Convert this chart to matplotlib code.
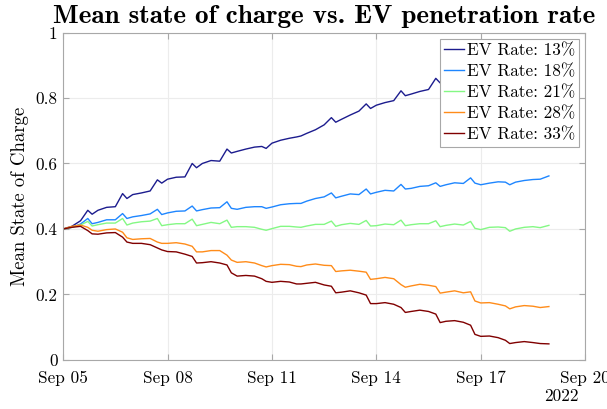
import datetime as dt
import matplotlib
matplotlib.use("Agg")
import matplotlib.pyplot as plt
import matplotlib.dates as mdates
from matplotlib.ticker import FuncFormatter

plt.rcParams["font.family"] = "cmr10"
plt.rcParams["mathtext.fontset"] = "cm"
plt.rcParams["axes.formatter.use_mathtext"] = True

start = dt.datetime(2022, 9, 5)

sample_hours = [
    0, 6, 12, 17, 20, 24, 30, 36, 41, 44, 48, 54, 60, 65, 68,
    72, 78, 84, 89, 92, 96, 102, 108, 113, 116, 120, 126, 132, 137, 140,
    144, 150, 156, 161, 164, 168, 174, 180, 185, 188, 192, 198, 204, 209, 212,
    216, 222, 228, 233, 236, 240, 246, 252, 257, 260, 264, 270, 276, 281, 284,
    288, 294, 300, 305, 308, 312, 318, 324, 329, 335,
]

soc_13 = [
    .400, .408, .425, .457, .445, .457, .466, .468, .508, .493,
    .505, .510, .516, .550, .540, .552, .558, .559, .600, .587,
    .600, .609, .607, .644, .632, .637, .644, .650, .652, .646,
    .662, .671, .677, .681, .684, .692, .703, .718, .740, .726,
    .735, .748, .760, .782, .768, .778, .786, .792, .822, .807,
    .812, .820, .826, .860, .846, .850, .860, .865, .895, .880,
    .885, .893, .898, .925, .912, .915, .922, .926, .950, .940,
]
soc_18 = [
    .400, .405, .415, .432, .416, .420, .428, .428, .447, .432,
    .437, .441, .446, .460, .444, .449, .454, .455, .470, .455,
    .459, .464, .465, .483, .463, .460, .466, .468, .468, .463,
    .467, .474, .477, .478, .478, .485, .493, .498, .510, .495,
    .500, .507, .505, .522, .507, .512, .518, .516, .536, .522,
    .524, .530, .532, .541, .530, .535, .541, .539, .556, .540,
    .535, .540, .544, .543, .535, .543, .548, .551, .552, .562,
]
soc_21 = [
    .400, .405, .412, .423, .409, .413, .418, .418, .432, .412,
    .418, .422, .424, .432, .410, .413, .416, .416, .430, .410,
    .414, .420, .416, .427, .405, .407, .407, .405, .399, .396,
    .401, .408, .408, .406, .405, .409, .414, .414, .424, .408,
    .413, .417, .414, .426, .409, .410, .415, .413, .427, .410,
    .413, .416, .416, .425, .407, .411, .415, .412, .423, .402,
    .398, .405, .406, .404, .393, .400, .405, .407, .404, .411,
]
soc_28 = [
    .400, .408, .412, .405, .396, .393, .398, .400, .390, .373,
    .368, .370, .371, .360, .356, .356, .358, .354, .347, .330,
    .330, .334, .334, .320, .305, .298, .300, .296, .288, .284,
    .288, .292, .291, .286, .285, .290, .293, .289, .288, .270,
    .272, .274, .271, .268, .246, .248, .252, .248, .230, .222,
    .226, .231, .228, .224, .204, .207, .211, .205, .208, .180,
    .174, .175, .170, .165, .156, .162, .166, .164, .160, .163,
]
soc_33 = [
    .400, .405, .408, .395, .385, .384, .388, .389, .375, .360,
    .356, .356, .352, .342, .336, .331, .330, .323, .316, .296,
    .297, .300, .296, .290, .266, .256, .258, .256, .248, .240,
    .237, .240, .238, .232, .232, .234, .237, .229, .225, .205,
    .207, .211, .205, .198, .172, .172, .175, .170, .160, .145,
    .148, .152, .148, .140, .114, .118, .120, .115, .106, .078,
    .072, .073, .068, .060, .050, .053, .056, .053, .050, .049,
]

labels = ["EV Rate: 13%", "EV Rate: 18%", "EV Rate: 21%", "EV Rate: 28%", "EV Rate: 33%"]
colors = ["#1c1c8e", "#1e86ff", "#84f884", "#ff8c1a", "#800000"]
series = [soc_13, soc_18, soc_21, soc_28, soc_33]

times = [start + dt.timedelta(hours=h) for h in sample_hours]

fig = plt.figure(figsize=(6.07, 4.09), dpi=100)
ax = fig.add_axes([0.104, 0.120, 0.860, 0.8005])

for vals, lab, col in zip(series, labels, colors):
    ax.plot(times, vals, color=col, lw=1.0, label=lab)

ax.set_xlim(start, start + dt.timedelta(days=15))
ax.set_ylim(0, 1)
ax.xaxis.set_major_locator(mdates.DayLocator(bymonthday=[5, 8, 11, 14, 17, 20]))
ax.xaxis.set_major_formatter(mdates.DateFormatter("%b %d"))
ax.set_yticks([0, 0.2, 0.4, 0.6, 0.8, 1])
ax.yaxis.set_major_formatter(FuncFormatter(lambda v, p: "%g" % v))

edge = "#a8a8a8"
for s in ax.spines.values():
    s.set_color(edge)
    s.set_linewidth(0.8)
ax.tick_params(direction="in", length=4, width=0.8, color=edge,
               top=True, right=True, labelsize=12.4)
ax.tick_params(axis="x", pad=8)
ax.tick_params(axis="y", pad=4)
ax.grid(True, color="#ececec", lw=0.8)
ax.set_axisbelow(True)

ax.set_title("Mean state of charge vs. EV penetration rate",
             fontfamily="cmb10", fontsize=19.5, pad=6.5)
ax.set_ylabel("Mean State of Charge", fontsize=13.5, labelpad=5)
ax.text(0.987, -0.088, "2022", transform=ax.transAxes, ha="right", va="top",
        fontsize=12.4)

leg = ax.legend(loc="upper right", fontsize=12.4, frameon=True, fancybox=False,
                edgecolor=edge, framealpha=1, borderpad=0.25, labelspacing=0.33,
                handlelength=1.15, handletextpad=0.15, borderaxespad=0.35)
leg.get_frame().set_linewidth(0.8)

fig.savefig("out.png", dpi=100)
